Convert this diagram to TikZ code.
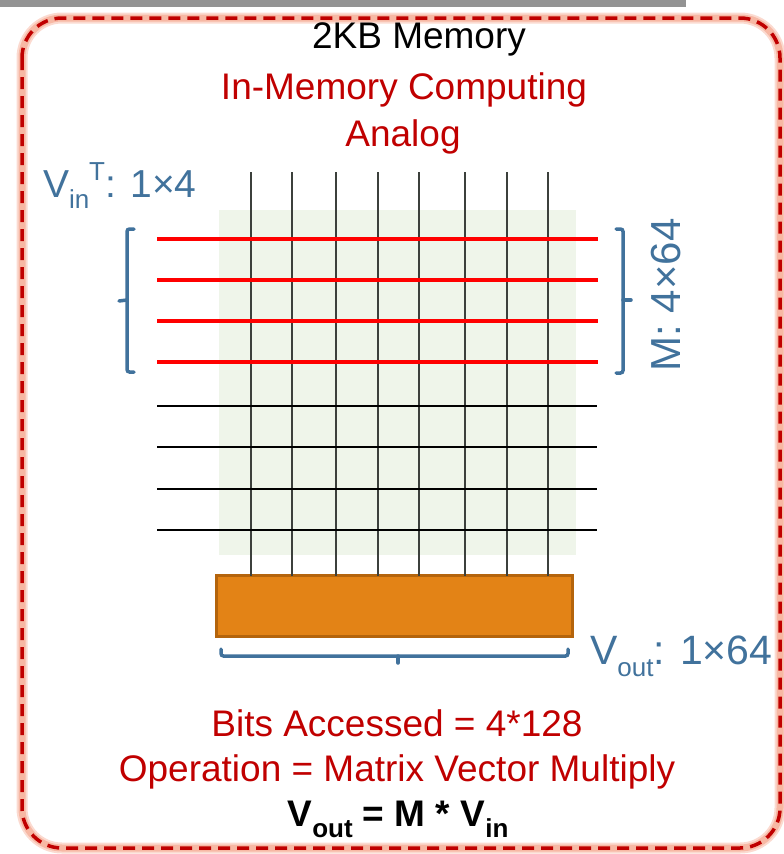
\documentclass[tikz,border=0pt]{standalone}
\usepackage{fontspec}
\setmainfont{Liberation Sans}
\definecolor{darkred}{HTML}{C00000}
\definecolor{glowc}{RGB}{243,150,120}
\definecolor{steel}{RGB}{65,114,156}
\definecolor{gridbg}{RGB}{239,245,234}
\definecolor{gridln}{RGB}{60,64,60}
\definecolor{ampfill}{RGB}{227,131,22}
\definecolor{ampdraw}{RGB}{180,100,12}
\newcommand{\bigfont}{\fontsize{37}{44}\selectfont}
\newcommand{\mysub}[1]{\raisebox{-0.3em}{\fontsize{26}{30}\selectfont #1}}
\newcommand{\mysupr}[1]{\raisebox{0.42em}{\fontsize{26}{30}\selectfont #1}}
\begin{document}
\begin{tikzpicture}[x=1pt,y=-1pt,
  every node/.style={inner sep=0pt,outer sep=0pt},
  txt/.style={font=\bigfont,anchor=base},
  redtxt/.style={txt,text=darkred},
  bluetxt/.style={text=steel},
  brace/.style={draw=steel,line width=3.5pt,rounded corners=2.5pt,line cap=round},
  redwire/.style={draw=red,line width=4pt},
  blackwire/.style={draw=black,line width=1.4pt},
  colwire/.style={draw=gridln,line width=1.5pt},
  border/.style={draw=darkred,line width=3.5pt,dash pattern=on 12pt off 7pt,rounded corners=40pt},
  glow/.style={draw=glowc,line width=11pt,opacity=0.35,rounded corners=40pt},
  glowin/.style={draw=glowc,line width=7pt,opacity=0.5,rounded corners=40pt}
]
\useasboundingbox (0,0) rectangle (784,854);
% top gray bar
\fill[gray!85] (0,0) rectangle (686,7);
% border
\draw[glow] (22,18) rectangle (780,848);
\draw[glowin] (22,18) rectangle (780,848);
\draw[border] (22,18) rectangle (780,848);
% titles
\node[txt] (t1) at (419,48) {2KB Memory};
\node[redtxt] (t2) at (404,99) {In-Memory Computing};
\node[redtxt] (t3) at (403,146) {Analog};
% array background
\fill[gridbg] (219,210) rectangle (576,555);
% amplifier block
\node[draw=ampdraw,fill=ampfill,line width=3pt,minimum width=356pt,minimum height=61pt] (amp) at (394,606) {};
% column lines
\foreach \x [count=\i] in {251,292,336,378,419,465,507,548}{
  \coordinate (ctop\i) at (\x,172);
  \draw[colwire] (ctop\i) -- (ctop\i |- amp.north);
}
% red (active) rows
\foreach \y [count=\i] in {239,280,321,362}{
  \coordinate (rl\i) at (157,\y);
  \coordinate (rr\i) at (598,\y);
  \draw[redwire] (rl\i) -- (rr\i);
}
% inactive rows
\foreach \y [count=\i] in {406,447,489,530}{
  \coordinate (bl\i) at (157,\y);
  \coordinate (br\i) at (597,\y);
  \draw[blackwire] (bl\i) -- (br\i);
}
% left brace
\draw[brace] (134,229) -- (127,229) -- (127,372) -- (134,372);
\draw[brace,rounded corners=0pt] (127,300) -- (119,301);
\node[bluetxt,anchor=base west,font=\fontsize{39}{46}\selectfont] (vin) at (43,197) {V\mysub{in}\mysupr{T}: 1×4};
% right brace
\draw[brace] (616,229) -- (623,229) -- (623,373) -- (616,373);
\draw[brace,rounded corners=0pt] (623,300) -- (631,300);
\node[bluetxt,rotate=90,font=\fontsize{42}{48}\selectfont] (mlabel) at (666,295) {M: 4×64};
% bottom brace
\draw[brace] (221,649) -- (221,656) -- (568,656) -- (568,649);
\draw[brace,rounded corners=0pt] (398,656) -- (398,663);
\node[bluetxt,anchor=base west,font=\fontsize{41}{48}\selectfont] (vout) at (590,664) {V\mysub{out}: 1×64};
% bottom texts
\node[redtxt] (b1) at (397,736) {Bits Accessed = 4*128};
\node[redtxt] (b2) at (397,781) {Operation = Matrix Vector Multiply};
\node[txt,font=\bigfont\bfseries] (b3) at (398,826) {V\mysub{\bfseries out} = M * V\mysub{\bfseries in}};
\end{tikzpicture}
\end{document}
